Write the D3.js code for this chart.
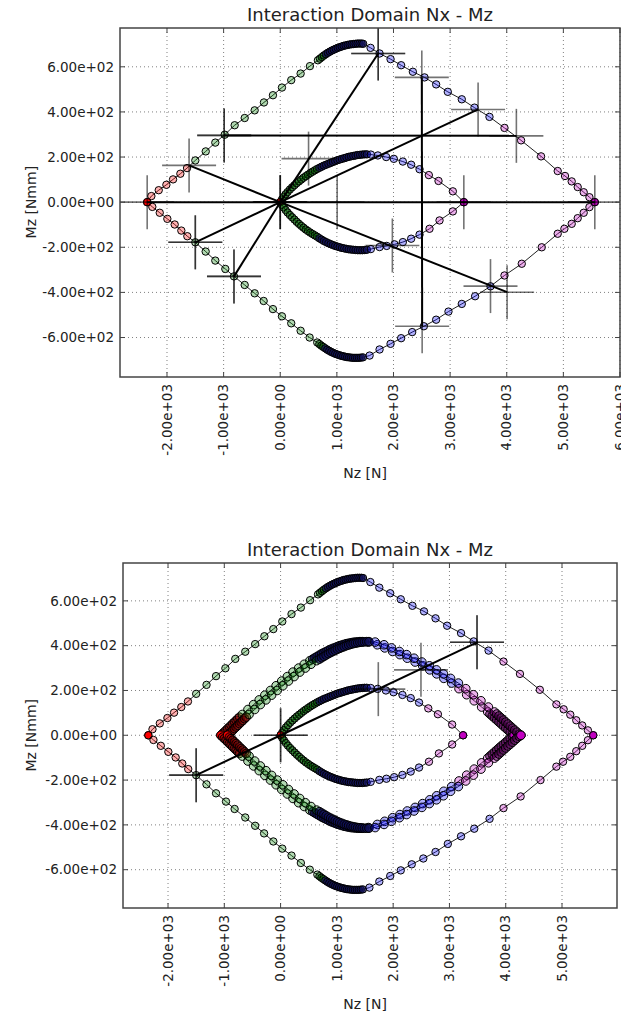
<!DOCTYPE html>
<html>
<head>
<meta charset="utf-8">
<script src="https://cdn.jsdelivr.net/npm/d3@7"></script>
<style>
body { margin: 0; background: #fff; }
svg { display: block; font-family: "DejaVu Sans", sans-serif; }
.grid line { stroke: #808080; stroke-width: 1; stroke-dasharray: 1,3; }
</style>
</head>
<body>
<div id="chart"></div>
<script>
// points are [Nz, Mz, region]; region codes: s start, r red, d dense red, g green, h dense green,
// n dense blue, b blue, p magenta, v dense magenta, e end

var outerUp = [
	[-2350,0,"s"],
	[-2276,27,"r"],[-2146,53,"r"],[-2011,77,"r"],[-1893,101,"r"],[-1764,126,"r"],[-1646,151,"r"],
	[-1500,185,"g"],[-1316,225,"g"],[-1147,264,"g"],[-981,299,"g"],[-805,341,"g"],[-628,373,"g"],[-452,407,"g"],[-288,442,"g"],[-129,474,"g"],[30,508,"g"],[194,541,"g"],[360,570,"g"],[524,603,"g"],[665,629,"g"],
	[700,636,"h"],[735,643,"h"],[770,650,"h"],
	[805,656,"n"],[840,662,"n"],[875,667,"n"],[910,672,"n"],[945,676,"n"],[980,680,"n"],[1015,684,"n"],[1050,687,"n"],[1085,690,"n"],[1120,693,"n"],[1155,695,"n"],[1190,697,"n"],[1225,699,"n"],[1260,700,"n"],[1295,701,"n"],[1330,702,"n"],[1365,703,"n"],[1400,703,"n"],[1435,703,"n"],[1464,702,"n"],
	[1595,684,"b"],[1754,659,"b"],[1948,634,"b"],[2135,607,"b"],[2342,578,"b"],[2548,553,"b"],[2753,522,"b"],[2959,489,"b"],[3206,456,"b"],[3430,419,"b"],[3695,378,"b"],
	[3960,329,"p"],[4253,274,"p"],[4606,203,"p"],[4900,138,"p"],[5029,116,"p"],[5147,92,"p"],[5253,67,"p"],[5359,44,"p"],[5460,22,"p"],
	[5555,0,"e"]
];

var outerDn = [
	[-2350,0,"s"],
	[-2259,-21,"r"],[-2128,-47,"r"],[-1994,-74,"r"],[-1864,-99,"r"],[-1747,-126,"r"],[-1641,-151,"r"],
	[-1500,-178,"g"],[-1317,-219,"g"],[-1147,-259,"g"],[-970,-296,"g"],[-817,-329,"g"],[-628,-367,"g"],[-452,-404,"g"],[-293,-438,"g"],[-129,-474,"g"],[30,-506,"g"],[194,-537,"g"],[360,-570,"g"],[519,-600,"g"],[653,-622,"g"],
	[690,-629,"h"],[725,-636,"h"],[760,-642,"h"],
	[795,-648,"n"],[830,-654,"n"],[865,-659,"n"],[900,-664,"n"],[935,-668,"n"],[970,-672,"n"],[1005,-675,"n"],[1040,-678,"n"],[1075,-681,"n"],[1110,-683,"n"],[1145,-685,"n"],[1180,-687,"n"],[1215,-688,"n"],[1250,-689,"n"],[1285,-690,"n"],[1320,-690,"n"],[1355,-690,"n"],[1390,-690,"n"],[1425,-689,"n"],[1460,-688,"n"],
	[1578,-680,"b"],[1754,-653,"b"],[1948,-628,"b"],[2135,-603,"b"],[2330,-576,"b"],[2536,-550,"b"],[2753,-521,"b"],[2971,-485,"b"],[3206,-451,"b"],[3441,-417,"b"],[3713,-373,"b"],
	[3960,-325,"p"],[4265,-273,"p"],[4618,-200,"p"],[4900,-140,"p"],[5018,-118,"p"],[5147,-96,"p"],[5253,-71,"p"],[5359,-47,"p"],[5460,-22,"p"],
	[5555,0,"e"]
];

var innerUp = [
	[0,0,"s"],
	[30,12,"h"],[60,23,"h"],[95,35,"h"],[130,45,"h"],[170,56,"h"],[210,66,"h"],[250,75,"h"],[290,84,"h"],[330,92,"h"],[370,100,"h"],[410,108,"h"],[450,115,"h"],[490,122,"h"],[530,129,"h"],[570,135,"h"],[610,141,"h"],[650,147,"h"],
	[690,152,"n"],[730,157,"n"],[770,162,"n"],[810,166,"n"],[850,170,"n"],[890,174,"n"],[930,178,"n"],[970,182,"n"],[1010,186,"n"],[1050,189,"n"],[1090,192,"n"],[1130,195,"n"],[1170,198,"n"],[1210,201,"n"],[1250,203,"n"],[1290,205,"n"],[1330,207,"n"],[1370,209,"n"],[1410,210,"n"],[1450,211,"n"],[1490,212,"n"],[1530,212,"n"],
	[1600,211,"b"],[1724,207,"b"],[1871,200,"b"],[2006,192,"b"],[2165,180,"b"],[2312,166,"b"],[2460,146,"b"],
	[2624,120,"p"],[2795,94,"p"],[3048,48,"p"],
	[3242,0,"e"]
];

var innerDn = [
	[0,0,"s"],
	[30,-12,"h"],[60,-23,"h"],[95,-35,"h"],[130,-46,"h"],[170,-57,"h"],[210,-67,"h"],[250,-77,"h"],[290,-87,"h"],[330,-96,"h"],[370,-105,"h"],[410,-113,"h"],[450,-121,"h"],[490,-128,"h"],[530,-135,"h"],[570,-141,"h"],[610,-147,"h"],[650,-153,"h"],
	[690,-160,"n"],[730,-166,"n"],[770,-172,"n"],[810,-177,"n"],[850,-182,"n"],[890,-186,"n"],[930,-190,"n"],[970,-194,"n"],[1010,-197,"n"],[1050,-200,"n"],[1090,-203,"n"],[1130,-205,"n"],[1170,-207,"n"],[1210,-209,"n"],[1250,-210,"n"],[1290,-211,"n"],[1330,-212,"n"],[1370,-213,"n"],[1410,-213,"n"],[1450,-213,"n"],[1490,-212,"n"],[1530,-211,"n"],
	[1600,-208,"b"],[1754,-199,"b"],[1880,-194,"b"],[2018,-187,"b"],[2165,-177,"b"],[2312,-162,"b"],[2460,-144,"b"],
	[2636,-118,"p"],[2813,-81,"p"],[3048,-41,"p"],
	[3242,0,"e"]
];

// the two middle domains of the second chart
var midAUp = [
	[-1060,0,"s"],
	[-1030,8,"d"],[-1000,15,"d"],[-970,22,"d"],[-940,30,"d"],[-910,37,"d"],[-880,44,"d"],[-850,52,"d"],[-820,59,"d"],[-790,66,"d"],[-760,74,"d"],[-730,81,"d"],
	[-680,93,"g"],[-580,115,"g"],[-480,137,"g"],[-380,158,"g"],[-280,179,"g"],[-180,200,"g"],[-80,221,"g"],[20,242,"g"],[120,262,"g"],[220,282,"g"],[320,300,"g"],[420,317,"g"],[520,333,"g"],
	[570,340,"n"],[610,346,"n"],[650,352,"n"],[690,358,"n"],[730,364,"n"],[770,369,"n"],[810,374,"n"],[850,379,"n"],[890,384,"n"],[930,388,"n"],[970,392,"n"],[1010,396,"n"],[1050,400,"n"],[1090,403,"n"],[1130,406,"n"],[1170,409,"n"],[1210,411,"n"],[1250,413,"n"],[1290,415,"n"],[1330,416,"n"],[1370,417,"n"],[1410,418,"n"],[1450,418,"n"],
	[1560,416,"b"],[1718,404,"b"],[1850,390,"b"],[1991,374,"b"],[2120,360,"b"],[2251,344,"b"],[2390,327,"b"],[2524,310,"b"],[2650,292,"b"],[2773,274,"b"],[2900,254,"b"],[3039,233,"b"],
	[3170,208,"p"],[3306,181,"p"],[3440,154,"p"],[3572,126,"p"],[3680,104,"p"],
	[3720,95,"v"],[3760,86,"v"],[3800,77,"v"],[3840,68,"v"],[3880,59,"v"],[3920,50,"v"],[3960,41,"v"],[4000,32,"v"],[4040,23,"v"],[4080,14,"v"],[4120,5,"v"],
	[4150,0,"e"]
];

var midADn = [
	[-1060,0,"s"],
	[-1030,-8,"d"],[-1000,-15,"d"],[-970,-22,"d"],[-940,-30,"d"],[-910,-37,"d"],[-880,-44,"d"],[-850,-52,"d"],[-820,-59,"d"],[-790,-66,"d"],[-760,-74,"d"],[-730,-81,"d"],
	[-680,-93,"g"],[-580,-115,"g"],[-480,-137,"g"],[-380,-158,"g"],[-280,-179,"g"],[-180,-200,"g"],[-80,-221,"g"],[20,-242,"g"],[120,-262,"g"],[220,-282,"g"],[320,-301,"g"],[420,-318,"g"],[520,-334,"g"],
	[570,-341,"n"],[610,-347,"n"],[650,-353,"n"],[690,-359,"n"],[730,-365,"n"],[770,-370,"n"],[810,-375,"n"],[850,-380,"n"],[890,-385,"n"],[930,-389,"n"],[970,-393,"n"],[1010,-397,"n"],[1050,-400,"n"],[1090,-403,"n"],[1130,-406,"n"],[1170,-408,"n"],[1210,-410,"n"],[1250,-412,"n"],[1290,-413,"n"],[1330,-414,"n"],[1370,-415,"n"],[1410,-415,"n"],[1450,-415,"n"],
	[1560,-412,"b"],[1718,-398,"b"],[1850,-384,"b"],[1991,-368,"b"],[2120,-354,"b"],[2251,-338,"b"],[2390,-322,"b"],[2524,-305,"b"],[2650,-288,"b"],[2773,-270,"b"],[2900,-250,"b"],[3039,-229,"b"],
	[3170,-204,"p"],[3306,-178,"p"],[3440,-151,"p"],[3572,-123,"p"],[3680,-102,"p"],
	[3720,-93,"v"],[3760,-84,"v"],[3800,-75,"v"],[3840,-66,"v"],[3880,-57,"v"],[3920,-48,"v"],[3960,-40,"v"],[4000,-31,"v"],[4040,-22,"v"],[4080,-13,"v"],[4120,-5,"v"],
	[4150,0,"e"]
];

var midBUp = [
	[-940,0,"s"],
	[-910,8,"d"],[-880,15,"d"],[-850,22,"d"],[-820,30,"d"],[-790,37,"d"],[-760,44,"d"],[-730,52,"d"],[-700,59,"d"],[-670,66,"d"],[-640,74,"d"],[-610,81,"d"],
	[-560,93,"g"],[-460,115,"g"],[-360,137,"g"],[-260,158,"g"],[-160,179,"g"],[-60,200,"g"],[40,221,"g"],[140,242,"g"],[240,262,"g"],[340,282,"g"],[440,300,"g"],[540,317,"g"],[640,333,"g"],
	[690,340,"n"],[730,346,"n"],[770,352,"n"],[810,358,"n"],[850,364,"n"],[890,369,"n"],[930,374,"n"],[970,379,"n"],[1010,384,"n"],[1050,388,"n"],[1090,392,"n"],[1130,396,"n"],[1170,400,"n"],[1210,403,"n"],[1250,406,"n"],[1290,409,"n"],[1330,411,"n"],[1370,413,"n"],[1410,415,"n"],[1450,416,"n"],[1490,417,"n"],[1530,418,"n"],[1570,418,"n"],
	[1680,416,"b"],[1838,404,"b"],[1970,390,"b"],[2111,374,"b"],[2240,360,"b"],[2371,344,"b"],[2510,327,"b"],[2644,310,"b"],[2770,292,"b"],[2893,274,"b"],[3020,254,"b"],[3159,233,"b"],
	[3290,208,"p"],[3426,181,"p"],[3560,154,"p"],[3692,126,"p"],[3800,104,"p"],
	[3840,95,"v"],[3880,86,"v"],[3920,77,"v"],[3960,68,"v"],[4000,59,"v"],[4040,50,"v"],[4080,41,"v"],[4120,32,"v"],[4160,23,"v"],[4200,14,"v"],[4240,5,"v"],
	[4270,0,"e"]
];

var midBDn = [
	[-940,0,"s"],
	[-910,-8,"d"],[-880,-15,"d"],[-850,-22,"d"],[-820,-30,"d"],[-790,-37,"d"],[-760,-44,"d"],[-730,-52,"d"],[-700,-59,"d"],[-670,-66,"d"],[-640,-74,"d"],[-610,-81,"d"],
	[-560,-93,"g"],[-460,-115,"g"],[-360,-137,"g"],[-260,-158,"g"],[-160,-179,"g"],[-60,-200,"g"],[40,-221,"g"],[140,-242,"g"],[240,-262,"g"],[340,-282,"g"],[440,-301,"g"],[540,-318,"g"],[640,-334,"g"],
	[690,-341,"n"],[730,-347,"n"],[770,-353,"n"],[810,-359,"n"],[850,-365,"n"],[890,-370,"n"],[930,-375,"n"],[970,-380,"n"],[1010,-385,"n"],[1050,-389,"n"],[1090,-393,"n"],[1130,-397,"n"],[1170,-400,"n"],[1210,-403,"n"],[1250,-406,"n"],[1290,-408,"n"],[1330,-410,"n"],[1370,-412,"n"],[1410,-413,"n"],[1450,-414,"n"],[1490,-415,"n"],[1530,-415,"n"],[1570,-415,"n"],
	[1680,-412,"b"],[1838,-398,"b"],[1970,-384,"b"],[2111,-368,"b"],[2240,-354,"b"],[2371,-338,"b"],[2510,-322,"b"],[2644,-305,"b"],[2770,-288,"b"],[2893,-270,"b"],[3020,-250,"b"],[3159,-229,"b"],
	[3290,-204,"p"],[3426,-178,"p"],[3560,-151,"p"],[3692,-123,"p"],[3800,-102,"p"],
	[3840,-93,"v"],[3880,-84,"v"],[3920,-75,"v"],[3960,-66,"v"],[4000,-57,"v"],[4040,-48,"v"],[4080,-40,"v"],[4120,-31,"v"],[4160,-22,"v"],[4200,-13,"v"],[4240,-5,"v"],
	[4270,0,"e"]
];

// load points (crosses) and the load paths joining them
var topCrosses = [
	[-2350,0],[-1610,163],[-990,296],[-990,296],[0,0],[0,0],[0,0],[500,193],[1005,0],
	[1730,659],[1730,659],[2500,553],[3242,0],[3494,411],[4170,294],[5555,0],
	[-1500,-178],[-1500,-178],[-817,-329],[-817,-329],[1980,-192],[2506,-550],[3713,-372],[4006,-399]
];
var topPaths = [
	[[-2350,0],[5555,0]],
	[[-990,296],[4170,294]],
	[[2500,553],[2506,-550]],
	[[0,0],[-1610,163]],
	[[0,0],[1730,659]],
	[[0,0],[3494,411]],
	[[0,0],[-1500,-178]],
	[[0,0],[-817,-329]],
	[[0,0],[4006,-399]]
];
var botCrosses = [
	[-1500,-178],[-1500,-178],[0,0],[0,0],[1736,206],[2494,292],[3490,415],[3490,415]
];
var botPaths = [
	[[-1500,-178],[0,0]],
	[[0,0],[3490,415]]
];

var nzTicksTop = [-2000,-1000,0,1000,2000,3000,4000,5000,6000];
var nzTicksBot = [-2000,-1000,0,1000,2000,3000,4000,5000];
var mzTicks = [-600,-400,-200,0,200,400,600];

var fills = {
	s: "#ff0000", e: "#c000c0",
	r: "rgba(255,0,0,0.3)", d: "rgba(120,0,0,0.5)",
	g: "rgba(0,128,0,0.3)", h: "rgba(0,90,0,0.5)",
	n: "rgba(15,15,85,0.7)", b: "rgba(0,0,255,0.3)",
	p: "rgba(191,0,191,0.3)", v: "rgba(90,10,90,0.55)"
};

function sci(v) {
	var s = d3.format(".2e")(v).replace("\u2212", "-");
	return s.replace(/e([+-])(\d+)$/, function(m, sg, ex) {
		return "e" + sg + (ex.length < 2 ? "0" + ex : ex);
	});
}

var svg = d3.select("#chart").append("svg")
	.attr("width", 621)
	.attr("height", 1013);

function panel(cfg) {
	var x = d3.scaleLinear().domain(cfg.nz).range([cfg.left, cfg.right]);
	var y = d3.scaleLinear().domain(cfg.mz).range([cfg.bottom, cfg.top]);
	var g = svg.append("g");

	g.append("clipPath").attr("id", cfg.id)
		.append("rect")
		.attr("x", cfg.left).attr("y", cfg.top)
		.attr("width", cfg.right - cfg.left).attr("height", cfg.bottom - cfg.top);

	var grid = g.append("g").attr("class", "grid");
	grid.selectAll(".gx").data(cfg.nzTicks).enter().append("line")
		.attr("x1", function(d) { return x(d); }).attr("x2", function(d) { return x(d); })
		.attr("y1", cfg.top).attr("y2", cfg.bottom);
	grid.selectAll(".gy").data(mzTicks).enter().append("line")
		.attr("x1", cfg.left).attr("x2", cfg.right)
		.attr("y1", function(d) { return y(d); }).attr("y2", function(d) { return y(d); });

	var plot = g.append("g").attr("clip-path", "url(#" + cfg.id + ")");

	var line = d3.line()
		.x(function(d) { return x(d[0]); })
		.y(function(d) { return y(d[1]); });

	cfg.curves.forEach(function(c) {
		plot.append("path")
			.datum(c.pts)
			.attr("d", line)
			.attr("fill", "none")
			.attr("stroke", "#222")
			.attr("stroke-width", 1);
	});
	cfg.curves.forEach(function(c) {
		plot.append("g").selectAll("circle")
			.data(c.pts)
			.enter().append("circle")
			.attr("cx", function(d) { return x(d[0]); })
			.attr("cy", function(d) { return y(d[1]); })
			.attr("r", c.r)
			.attr("fill", function(d) { return fills[d[2]]; })
			.attr("stroke", "#000")
			.attr("stroke-width", 1);
	});

	plot.selectAll(".path").data(cfg.paths).enter().append("line")
		.attr("x1", function(d) { return x(d[0][0]); })
		.attr("y1", function(d) { return y(d[0][1]); })
		.attr("x2", function(d) { return x(d[1][0]); })
		.attr("y2", function(d) { return y(d[1][1]); })
		.attr("stroke", "#000")
		.attr("stroke-width", 2);

	var arm = 27;
	var cross = plot.selectAll(".cross").data(cfg.crosses).enter().append("g")
		.attr("transform", function(d) { return "translate(" + x(d[0]) + "," + y(d[1]) + ")"; })
		.attr("stroke", "rgba(0,0,0,0.55)")
		.attr("stroke-width", 1.6);
	cross.append("line").attr("x1", -arm).attr("x2", arm);
	cross.append("line").attr("y1", -arm).attr("y2", arm);

	// frame and inward ticks
	g.append("rect")
		.attr("x", cfg.left).attr("y", cfg.top)
		.attr("width", cfg.right - cfg.left).attr("height", cfg.bottom - cfg.top)
		.attr("fill", "none").attr("stroke", "#444").attr("stroke-width", 1.5);

	var tk = g.append("g").attr("stroke", "#444");
	cfg.nzTicks.forEach(function(t) {
		tk.append("line").attr("x1", x(t)).attr("x2", x(t)).attr("y1", cfg.bottom).attr("y2", cfg.bottom - 5);
		tk.append("line").attr("x1", x(t)).attr("x2", x(t)).attr("y1", cfg.top).attr("y2", cfg.top + 5);
	});
	mzTicks.forEach(function(t) {
		tk.append("line").attr("y1", y(t)).attr("y2", y(t)).attr("x1", cfg.left).attr("x2", cfg.left + 5);
		tk.append("line").attr("y1", y(t)).attr("y2", y(t)).attr("x1", cfg.right).attr("x2", cfg.right - 5);
	});

	g.selectAll(".ylab").data(mzTicks).enter().append("text")
		.attr("x", cfg.left - 6)
		.attr("y", function(d) { return y(d); })
		.attr("dy", "0.35em")
		.attr("text-anchor", "end")
		.attr("font-size", 13.5)
		.attr("fill", "#222")
		.text(sci);

	g.selectAll(".xlab").data(cfg.nzTicks).enter().append("text")
		.attr("transform", function(d) { return "translate(" + x(d) + "," + (cfg.bottom + 7) + ") rotate(-90)"; })
		.attr("dy", "0.35em")
		.attr("text-anchor", "end")
		.attr("font-size", 13.5)
		.attr("fill", "#222")
		.text(sci);

	g.append("text")
		.attr("x", (cfg.left + cfg.right) / 2)
		.attr("y", cfg.top - 7)
		.attr("text-anchor", "middle")
		.attr("font-size", 18)
		.attr("fill", "#222")
		.text("Interaction Domain Nx - Mz");

	g.append("text")
		.attr("transform", "translate(31," + y(0) + ") rotate(-90)")
		.attr("dy", "0.35em")
		.attr("text-anchor", "middle")
		.attr("font-size", 14)
		.attr("fill", "#222")
		.text("Mz [Nmm]");

	g.append("text")
		.attr("x", x(1500))
		.attr("y", cfg.bottom + 101)
		.attr("text-anchor", "middle")
		.attr("font-size", 14)
		.attr("fill", "#222")
		.text("Nz [N]");
}

panel({
	id: "clipTop", left: 120, right: 620, top: 28, bottom: 377,
	nz: [-2830, 6000], mz: [-775, 772], nzTicks: nzTicksTop,
	curves: [
		{ pts: outerUp, r: 3.7 }, { pts: outerDn, r: 3.7 },
		{ pts: innerUp, r: 3.7 }, { pts: innerDn, r: 3.7 }
	],
	paths: topPaths, crosses: topCrosses
});

panel({
	id: "clipBot", left: 123, right: 617, top: 563, bottom: 908,
	nz: [-2800, 5977], mz: [-771, 769], nzTicks: nzTicksBot,
	curves: [
		{ pts: outerUp, r: 3.7 }, { pts: outerDn, r: 3.7 },
		{ pts: midAUp, r: 4.3 }, { pts: midADn, r: 4.3 },
		{ pts: midBUp, r: 4.3 }, { pts: midBDn, r: 4.3 },
		{ pts: innerUp, r: 3.7 }, { pts: innerDn, r: 3.7 }
	],
	paths: botPaths, crosses: botCrosses
});
</script>
</body>
</html>
